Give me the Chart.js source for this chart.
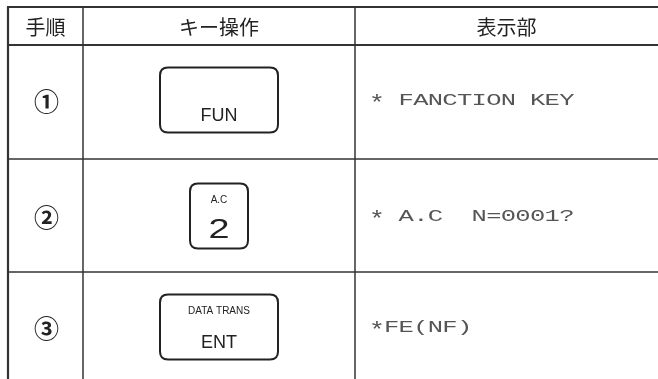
<!DOCTYPE html>
<html>
<head>
<meta charset="utf-8">
<script src="https://cdn.jsdelivr.net/npm/chart.js@4/dist/chart.umd.min.js"></script>
<style>
  html, body { margin: 0; padding: 0; background: #fff; }
  #wrap { width: 658px; height: 379px; }
</style>
</head>
<body>
<div id="wrap"><canvas id="tableChart" width="658" height="379"></canvas></div>
<script>
// table content
const headers = ["手順", "キー操作", "表示部"];
const steps = ["①", "②", "③"];
const keyTop = ["", "A.C", "DATA TRANS"];
const keyMain = ["FUN", "2", "ENT"];
const displayText = ["* FANCTION KEY", "* A.C  N=0001?", "*FE(NF)"];

// layout in page pixels (the hidden scales map 1:1)
const layout = {
  colEdges: [8, 83, 355, 658],
  rowEdges: [7, 45, 159, 272, 390],
  rowMid: [100, 216, 327],
  keyWide: 118,
  keyNarrow: 58,
  keyHeight: 65,
  dispX: 371,
  dispPitch: 14.6,
};

function roundRect(ctx, x, y, w, h, r) {
  ctx.beginPath();
  ctx.moveTo(x + r, y);
  ctx.lineTo(x + w - r, y);
  ctx.quadraticCurveTo(x + w, y, x + w, y + r);
  ctx.lineTo(x + w, y + h - r);
  ctx.quadraticCurveTo(x + w, y + h, x + w - r, y + h);
  ctx.lineTo(x + r, y + h);
  ctx.quadraticCurveTo(x, y + h, x, y + h - r);
  ctx.lineTo(x, y + r);
  ctx.quadraticCurveTo(x, y, x + r, y);
  ctx.closePath();
}

const tablePlugin = {
  id: "tablePlugin",
  afterDraw(chart) {
    const ctx = chart.ctx;
    const xs = chart.scales.x;
    const ys = chart.scales.y;
    const X = (v) => xs.getPixelForValue(v);
    const Y = (v) => ys.getPixelForValue(v);
    const ce = layout.colEdges;
    const re = layout.rowEdges;
    ctx.save();
    ctx.strokeStyle = "#333";

    // horizontal rules
    re.slice(0, -1).forEach((r, i) => {
      ctx.lineWidth = i < 2 ? 2.2 : 1.5;
      ctx.beginPath();
      ctx.moveTo(X(ce[0]) - 1, Y(r));
      ctx.lineTo(X(ce[3]), Y(r));
      ctx.stroke();
    });
    // vertical rules
    ce.slice(0, 3).forEach((c, i) => {
      ctx.lineWidth = i === 0 ? 2.2 : 1.5;
      ctx.beginPath();
      ctx.moveTo(X(c), Y(re[0]));
      ctx.lineTo(X(c), Y(re[4]));
      ctx.stroke();
    });

    // header
    ctx.fillStyle = "#222";
    ctx.textAlign = "center";
    ctx.textBaseline = "middle";
    ctx.font = '20px "Noto Sans CJK JP"';
    headers.forEach((h, i) => {
      ctx.fillText(h, X((ce[i] + ce[i + 1]) / 2), Y((re[0] + re[1]) / 2) + 1);
    });

    steps.forEach((s, i) => {
      const cy = Y(layout.rowMid[i]);
      // step number
      ctx.fillStyle = "#222";
      ctx.textAlign = "center";
      ctx.font = 'bold 25px "Noto Sans CJK JP"';
      ctx.fillText(s, X((ce[0] + ce[1]) / 2) + 1, cy + 1);

      // key cap
      const w = keyMain[i].length === 1 ? layout.keyNarrow : layout.keyWide;
      const kx = X((ce[1] + ce[2]) / 2) - w / 2;
      const ky = cy - layout.keyHeight / 2;
      ctx.lineWidth = 2;
      ctx.strokeStyle = "#222";
      roundRect(ctx, kx, ky, w, layout.keyHeight, 8);
      ctx.stroke();
      if (keyTop[i]) {
        ctx.font = '10px "Liberation Sans"';
        ctx.fillText(keyTop[i], kx + w / 2, ky + 17);
      }
      if (keyMain[i].length === 1) {
        ctx.save();
        ctx.translate(kx + w / 2, ky + 47);
        ctx.scale(1.35, 1);
        ctx.font = '28px "Liberation Sans"';
        ctx.fillText(keyMain[i], 0, 0);
        ctx.restore();
      } else {
        ctx.font = '18px "Liberation Sans"';
        ctx.fillText(keyMain[i], kx + w / 2, ky + 49);
      }

      // display text, fixed pitch like the LCD, glyphs stretched wide
      ctx.fillStyle = "#555";
      ctx.textAlign = "center";
      [...displayText[i]].forEach((ch, k) => {
        ctx.save();
        const star = ch === "*";
        ctx.font = star ? '22px "Liberation Mono"' : '17px "Liberation Mono"';
        ctx.translate(X(layout.dispX + k * layout.dispPitch + 6), cy + (star ? 4 : 0));
        ctx.scale(star ? 1.2 : 1.5, 1);
        ctx.fillText(ch, 0, 0);
        ctx.restore();
      });
    });
    ctx.restore();
  },
};

new Chart(document.getElementById("tableChart").getContext("2d"), {
  type: "scatter",
  data: { datasets: [{ data: [] }] },
  options: {
    responsive: false,
    animation: false,
    layout: { padding: 0 },
    plugins: { legend: { display: false }, tooltip: { enabled: false } },
    scales: {
      x: { type: "linear", display: false, min: 0, max: 658 },
      y: { type: "linear", display: false, min: 0, max: 379, reverse: true },
    },
  },
  plugins: [tablePlugin],
});
</script>
</body>
</html>
